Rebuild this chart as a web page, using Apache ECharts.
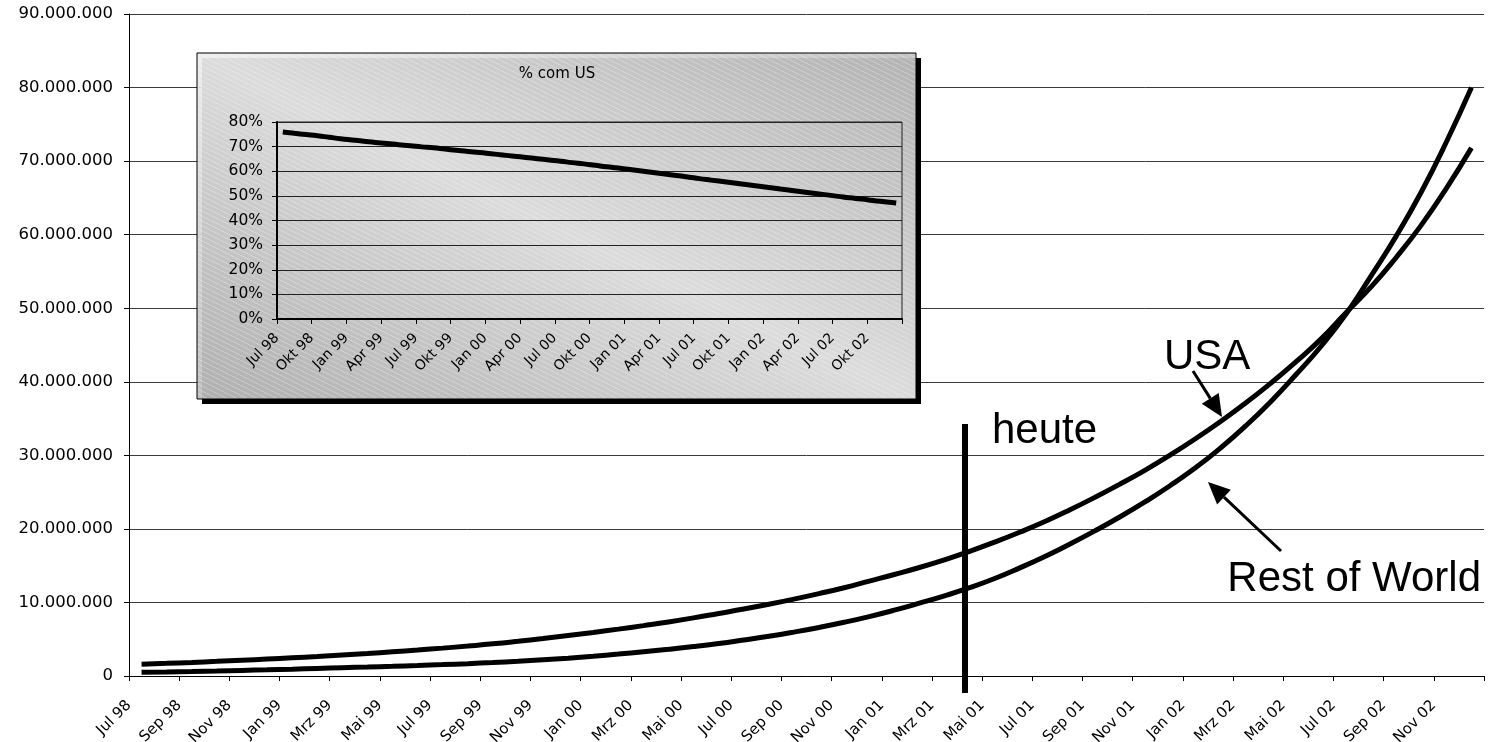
<!DOCTYPE html>
<html>
<head>
<meta charset="utf-8">
<script src="https://cdn.jsdelivr.net/npm/echarts@6/dist/echarts.min.js"></script>
<style>
  html, body { margin: 0; padding: 0; background: #fff; }
  #chart { width: 1492px; height: 742px; }
</style>
</head>
<body>
<div id="chart"></div>
<script>
// Monthly categories, Jul 98 .. Dez 02
const months = [
  'Jul 98','Aug 98','Sep 98','Okt 98','Nov 98','Dez 98',
  'Jan 99','Feb 99','Mrz 99','Apr 99','Mai 99','Jun 99','Jul 99','Aug 99','Sep 99','Okt 99','Nov 99','Dez 99',
  'Jan 00','Feb 00','Mrz 00','Apr 00','Mai 00','Jun 00','Jul 00','Aug 00','Sep 00','Okt 00','Nov 00','Dez 00',
  'Jan 01','Feb 01','Mrz 01','Apr 01','Mai 01','Jun 01','Jul 01','Aug 01','Sep 01','Okt 01','Nov 01','Dez 01',
  'Jan 02','Feb 02','Mrz 02','Apr 02','Mai 02','Jun 02','Jul 02','Aug 02','Sep 02','Okt 02','Nov 02','Dez 02'
];

// Users in millions
const usaMio = [
  1.60, 1.72, 1.85, 1.99, 2.14, 2.30, 2.47, 2.65, 2.85, 3.06,
  3.29, 3.53, 3.79, 4.07, 4.37, 4.72, 5.10, 5.50, 5.92, 6.37,
  6.85, 7.35, 7.90, 8.50, 9.10, 9.75, 10.45, 11.20, 12.00, 12.90,
  13.80, 14.75, 15.80, 16.95, 18.20, 19.55, 21.00, 22.60, 24.30, 26.10,
  28.00, 30.05, 32.25, 34.60, 37.10, 39.80, 42.70, 45.80, 49.40, 52.90,
  56.90, 61.30, 66.30, 71.80
];
const restOfWorldMio = [
  0.50, 0.55, 0.61, 0.68, 0.76, 0.84, 0.93, 1.03, 1.13, 1.22,
  1.32, 1.43, 1.55, 1.68, 1.83, 2.00, 2.20, 2.42, 2.68, 2.98,
  3.30, 3.63, 4.00, 4.42, 4.90, 5.40, 5.97, 6.60, 7.30, 8.08,
  8.95, 9.90, 10.90, 12.00, 13.25, 14.70, 16.25, 17.95, 19.75, 21.65,
  23.70, 25.90, 28.30, 31.00, 34.00, 37.30, 40.95, 44.80, 49.20, 54.40,
  59.80, 65.80, 72.60, 80.00
];

// Share of US users, percent
const shareUS = [
  75.9, 75.4, 74.9, 74.4, 73.8, 73.2, 72.7, 72.2, 71.7, 71.3,
  70.8, 70.4, 69.9, 69.5, 69.0, 68.5, 68.0, 67.6, 67.1, 66.6,
  66.1, 65.6, 65.1, 64.6, 64.1, 63.5, 63.0, 62.4, 61.8, 61.3,
  60.7, 60.1, 59.5, 58.9, 58.3, 57.7, 57.0, 56.4, 55.8, 55.2,
  54.6, 54.0, 53.4, 52.8, 52.2, 51.6, 51.0, 50.4, 49.8, 49.2,
  48.7, 48.1, 47.6, 47.1
];

// Tick labels: every second month on the main axis, quarters on the small chart
const mainTickLabels = [
  'Jul 98','Sep 98','Nov 98','Jan 99','Mrz 99','Mai 99','Jul 99','Sep 99','Nov 99',
  'Jan 00','Mrz 00','Mai 00','Jul 00','Sep 00','Nov 00','Jan 01','Mrz 01','Mai 01',
  'Jul 01','Sep 01','Nov 01','Jan 02','Mrz 02','Mai 02','Jul 02','Sep 02','Nov 02'
];
const insetTickLabels = [
  'Jul 98','Okt 98','Jan 99','Apr 99','Jul 99','Okt 99','Jan 00','Apr 00','Jul 00',
  'Okt 00','Jan 01','Apr 01','Jul 01','Okt 01','Jan 02','Apr 02','Jul 02','Okt 02'
];

const LABEL_FONT = '"DejaVu Sans", Arial, sans-serif';
const BIG_FONT = '"Liberation Sans", Arial, Helvetica, sans-serif';

function withDots(n) {
  return String(Math.round(n)).replace(/\B(?=(\d{3})+(?!\d))/g, '.');
}

// faint diagonal hatching for the small chart's panel
function hatchPattern() {
  const c = document.createElement('canvas');
  c.width = 10; c.height = 5;
  const ctx = c.getContext('2d');
  ctx.strokeStyle = 'rgba(255,255,255,0.55)';
  ctx.lineWidth = 1;
  ctx.beginPath();
  ctx.moveTo(-2, -1); ctx.lineTo(12, 6);
  ctx.stroke();
  return c;
}

function arrow(tail, tip, headLen, headHalf, z) {
  const dx = tip[0] - tail[0], dy = tip[1] - tail[1];
  const len = Math.sqrt(dx * dx + dy * dy);
  const ux = dx / len, uy = dy / len;
  const bx = tip[0] - ux * headLen, by = tip[1] - uy * headLen;
  return [
    { type: 'line', z: z, shape: { x1: tail[0], y1: tail[1], x2: bx, y2: by },
      style: { stroke: '#000', lineWidth: 3 } },
    { type: 'polygon', z: z, shape: { points: [
        [tip[0], tip[1]],
        [bx - uy * headHalf, by + ux * headHalf],
        [bx + uy * headHalf, by - ux * headHalf]
      ] }, style: { fill: '#000' } }
  ];
}

const chart = echarts.init(document.getElementById('chart'), null, { renderer: 'canvas' });

const box = { x: 197, y: 53, w: 719, h: 346 };

const graphics = [
  // panel of the small chart with drop shadow
  { type: 'rect', z: 4, shape: { x: box.x + 5, y: box.y + 5, width: box.w, height: box.h },
    style: { fill: '#000' } },
  { type: 'rect', z: 5, shape: { x: box.x, y: box.y, width: box.w, height: box.h },
    style: {
      fill: new echarts.graphic.LinearGradient(0.3115, 1.312, 0.688, -0.306, [
        { offset: 0, color: 'rgba(188,188,188,0.93)' },
        { offset: 0.5, color: 'rgba(236,236,236,0.93)' },
        { offset: 1, color: 'rgba(192,192,192,0.93)' }
      ]),
      stroke: '#000', lineWidth: 1
    } },
  { type: 'rect', z: 6, shape: { x: box.x + 1, y: box.y + 1, width: box.w - 2, height: box.h - 2 },
    style: { fill: { image: hatchPattern(), repeat: 'repeat' }, opacity: 0.6 } },
  { type: 'text', z: 15, style: { text: '% com US', x: 557, y: 74, align: 'center', verticalAlign: 'middle',
      fontSize: 15, fontFamily: LABEL_FONT, fill: '#000' } },

  // "heute" marker
  { type: 'line', z: 20, shape: { x1: 965, y1: 424, x2: 965, y2: 693 },
    style: { stroke: '#000', lineWidth: 6 } },
  { type: 'text', z: 20, style: { text: 'heute', x: 992, y: 431, align: 'left', verticalAlign: 'middle',
      fontSize: 42, fontFamily: BIG_FONT, fill: '#000' } },

  // series labels with arrows
  { type: 'text', z: 20, style: { text: 'USA', x: 1164, y: 357, align: 'left', verticalAlign: 'middle',
      fontSize: 42, fontFamily: BIG_FONT, fill: '#000' } },
  { type: 'text', z: 20, style: { text: 'Rest of World', x: 1481, y: 579, align: 'right', verticalAlign: 'middle',
      fontSize: 42, fontFamily: BIG_FONT, fill: '#000' } }
].concat(arrow([1193, 371], [1222, 417], 22, 10, 20))
 .concat(arrow([1281, 551], [1208, 482], 22, 10, 20));

const option = {
  animation: false,
  backgroundColor: '#fff',
  grid: [
    { left: 129, top: 14, width: 1355, height: 662, containLabel: false, outerBoundsMode: 'none' },
    { left: 277, top: 122, width: 625, height: 197, show: true, z: 10, outerBoundsMode: 'none',
      backgroundColor: 'transparent', borderColor: '#222', borderWidth: 1 }
  ],
  xAxis: [
    // main chart: data axis
    { type: 'category', gridIndex: 0, data: months, boundaryGap: true, position: 'bottom',
      axisLine: { show: true, onZero: false, lineStyle: { color: '#000', width: 1 } },
      axisTick: { show: false }, axisLabel: { show: false }, splitLine: { show: false } },
    // main chart: tick marks and labels
    { type: 'category', gridIndex: 0, data: mainTickLabels.concat(['']), boundaryGap: false, position: 'bottom',
      axisLine: { show: false, onZero: false },
      axisTick: { show: true, interval: 0, length: 5, lineStyle: { color: '#000', width: 1 } },
      axisLabel: { show: true, interval: 0, rotate: 45, margin: 27, fontSize: 15,
        fontFamily: LABEL_FONT, color: '#000' },
      splitLine: { show: false } },
    // small chart: data axis
    { type: 'category', gridIndex: 1, data: months, boundaryGap: true, position: 'bottom', z: 10,
      axisLine: { show: true, onZero: false, lineStyle: { color: '#000', width: 2 } },
      axisTick: { show: false }, axisLabel: { show: false }, splitLine: { show: false } },
    // small chart: tick marks and labels
    { type: 'category', gridIndex: 1, data: insetTickLabels.concat(['']), boundaryGap: false, position: 'bottom', z: 10,
      axisLine: { show: false, onZero: false },
      axisTick: { show: true, interval: 0, length: 5, lineStyle: { color: '#000', width: 1 } },
      axisLabel: { show: true, interval: 0, rotate: 45, margin: 17, fontSize: 14,
        fontFamily: LABEL_FONT, color: '#000' },
      splitLine: { show: false } }
  ],
  yAxis: [
    { type: 'value', gridIndex: 0, min: 0, max: 90, interval: 10, position: 'left',
      axisLine: { show: true, lineStyle: { color: '#000', width: 1 } },
      axisTick: { show: true, length: 5, lineStyle: { color: '#000' } },
      axisLabel: { margin: 16, fontSize: 16.5, fontFamily: LABEL_FONT, color: '#000',
        formatter: v => withDots(v * 1e6) },
      splitLine: { show: true, lineStyle: { color: '#3a3a3a', width: 1 } } },
    { type: 'value', gridIndex: 1, min: 0, max: 80, interval: 10, position: 'left', z: 10,
      axisLine: { show: true, lineStyle: { color: '#000', width: 2 } },
      axisTick: { show: true, length: 5, lineStyle: { color: '#000' } },
      axisLabel: { margin: 14, fontSize: 15.5, fontFamily: LABEL_FONT, color: '#000',
        formatter: '{value}%' },
      splitLine: { show: true, lineStyle: { color: '#222', width: 1 } } }
  ],
  series: [
    { name: 'USA', type: 'line', xAxisIndex: 0, yAxisIndex: 0, data: usaMio,
      showSymbol: false, smooth: true, lineStyle: { color: '#000', width: 5 }, z: 3 },
    { name: 'Rest of World', type: 'line', xAxisIndex: 0, yAxisIndex: 0, data: restOfWorldMio,
      showSymbol: false, smooth: true, lineStyle: { color: '#000', width: 5 }, z: 3 },
    { name: '% com US', type: 'line', xAxisIndex: 2, yAxisIndex: 1, data: shareUS,
      showSymbol: false, smooth: true, lineStyle: { color: '#000', width: 5 }, z: 12 }
  ],
  graphic: { elements: graphics }
};

chart.setOption(option);
</script>
</body>
</html>
